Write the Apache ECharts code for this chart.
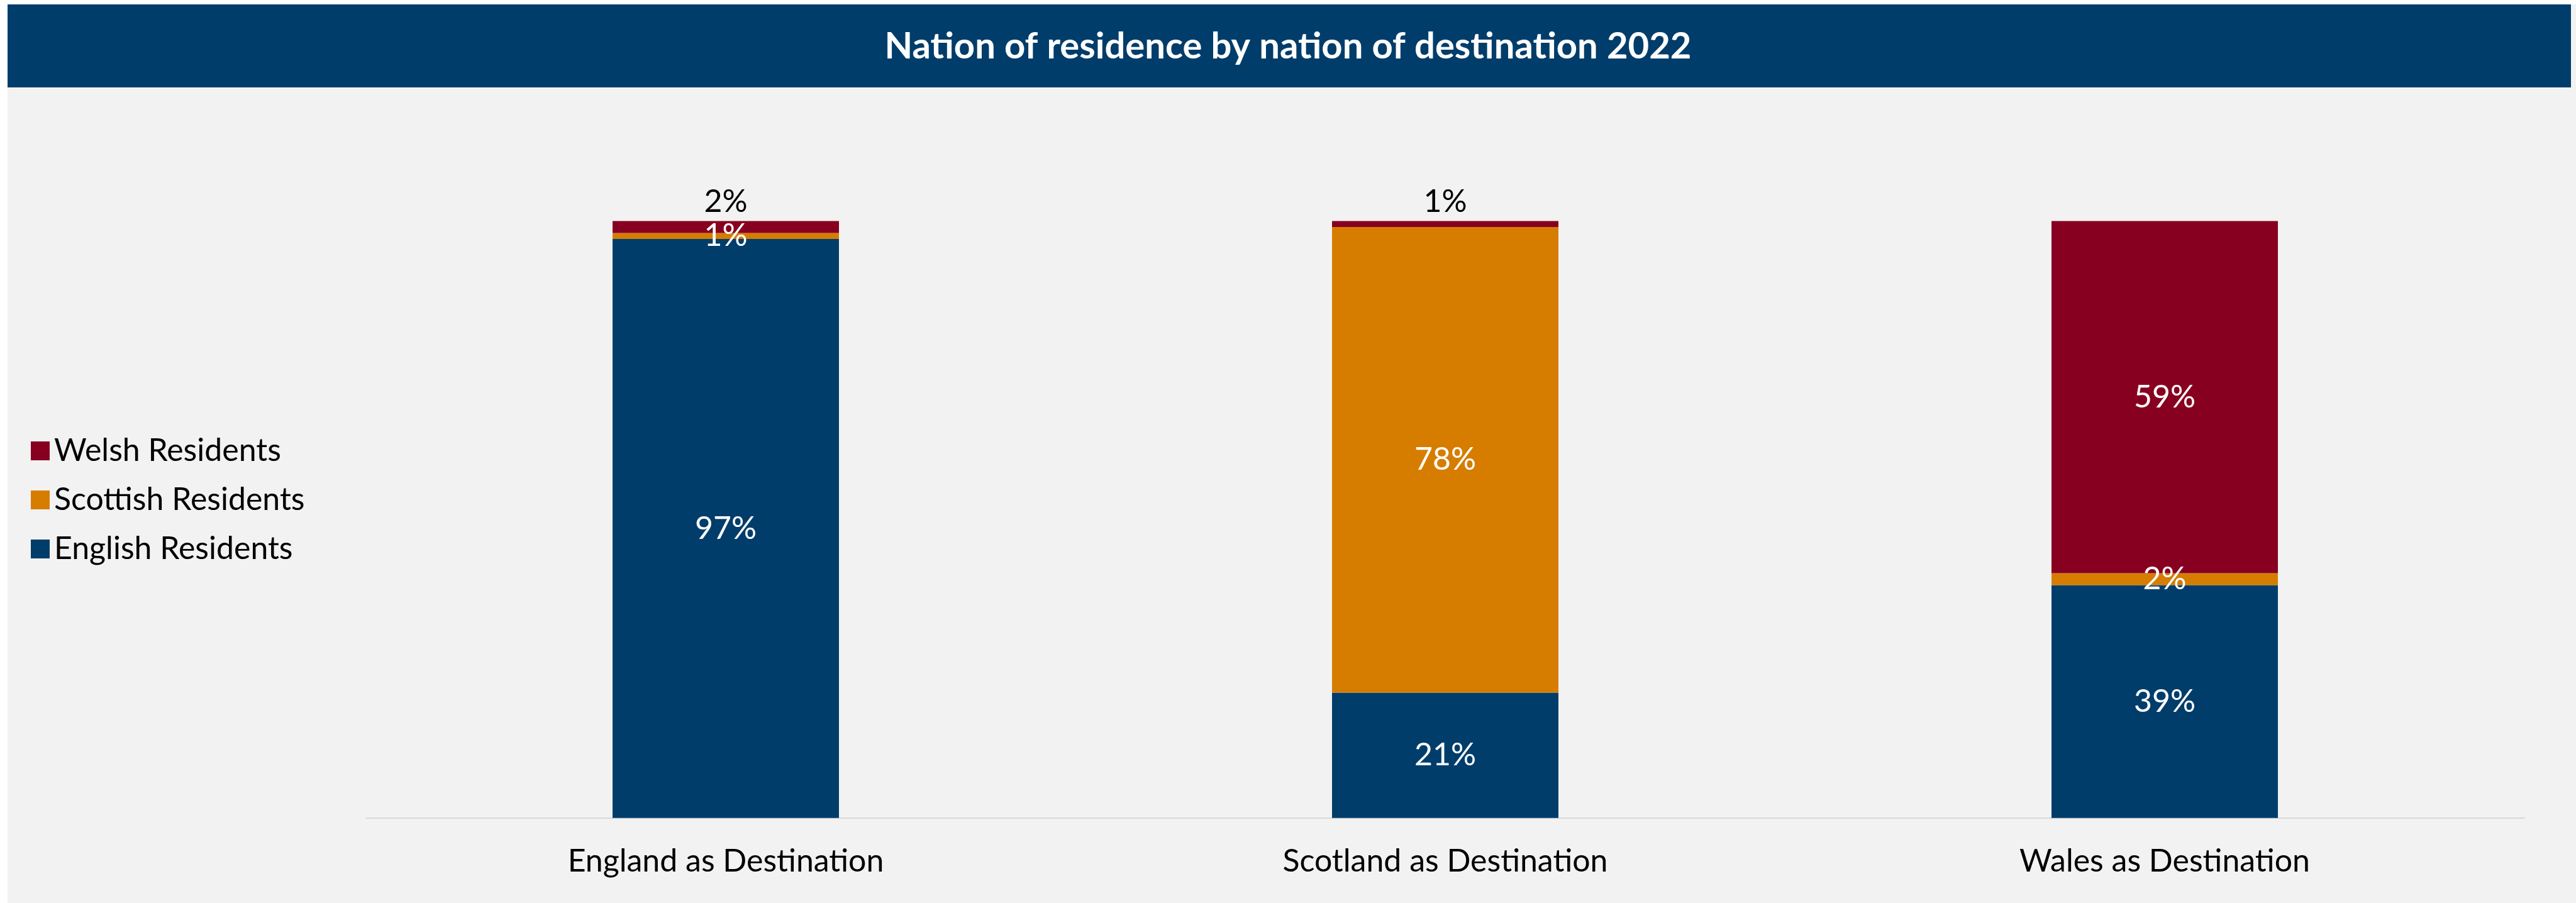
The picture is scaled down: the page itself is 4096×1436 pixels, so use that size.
<!DOCTYPE html>
<html>
<head>
<meta charset="utf-8">
<title>Nation of residence by nation of destination 2022</title>
<script src="https://cdn.jsdelivr.net/npm/echarts@6/dist/echarts.min.js"></script>
<style>
  html, body { margin: 0; padding: 0; background: #ffffff; }
  #chart { width: 4096px; height: 1436px; }
</style>
</head>
<body>
<div id="chart"></div>
<script>
// Destinations along the x axis
const destinations = ['England as Destination', 'Scotland as Destination', 'Wales as Destination'];

// Share of visitors (%) by nation of residence, per destination
const englishResidents = [97, 21, 39];
const scottishResidents = [1, 78, 2];
const welshResidents = [2, 1, 59];

// Order shown in the legend (top to bottom)
const legendOrder = ['Welsh Residents', 'Scottish Residents', 'English Residents'];

const NAVY = '#003D6B';
const ORANGE = '#D67D00';
const RED = '#870020';
const FONT = 'Lato, "Open Sans", sans-serif';

const chart = echarts.init(document.getElementById('chart'));

// Small Welsh segments get their label above the bar in dark text
const welshData = welshResidents.map(function (v) {
  if (v < 5) {
    return { value: v, label: { position: 'top', distance: 6, color: '#000000' } };
  }
  return v;
});

const labelBase = {
  show: true,
  position: 'inside',
  color: '#ffffff',
  fontFamily: FONT,
  fontSize: 50,
  formatter: function (p) { return p.value + '%'; }
};

chart.setOption({
  backgroundColor: '#ffffff',
  animation: false,
  graphic: [
    // panel background
    { type: 'rect', shape: { x: 12, y: 7, width: 4084, height: 1429 }, style: { fill: '#F2F2F2' }, z: -10 },
    // title band
    { type: 'rect', shape: { x: 12, y: 7, width: 4076, height: 132 }, style: { fill: NAVY }, z: -5 }
  ],
  title: {
    text: 'Nation of residence by nation of destination 2022',
    left: 'center',
    top: 40,
    textStyle: { color: '#ffffff', fontFamily: FONT, fontWeight: 'bold', fontSize: 58 }
  },
  legend: {
    orient: 'vertical',
    left: 44,
    top: 687,
    data: legendOrder,
    itemWidth: 30,
    itemHeight: 30,
    itemGap: 28,
    icon: 'rect',
    textStyle: { color: '#000000', fontFamily: FONT, fontSize: 50, lineHeight: 50, padding: [0, 0, 0, 2] }
  },
  grid: { left: 582, right: 82, top: 351.5, bottom: 135.2, containLabel: false },
  xAxis: {
    type: 'category',
    data: destinations,
    axisLine: { show: true, lineStyle: { color: '#D9D9D9', width: 2 } },
    axisTick: { show: false },
    axisLabel: { color: '#000000', fontFamily: FONT, fontSize: 50, margin: 44 }
  },
  yAxis: {
    type: 'value',
    min: 0,
    max: 100,
    show: false,
    splitLine: { show: false }
  },
  series: [
    {
      name: 'English Residents', type: 'bar', stack: 'share', barWidth: 360,
      itemStyle: { color: NAVY }, label: labelBase, data: englishResidents
    },
    {
      name: 'Scottish Residents', type: 'bar', stack: 'share', barWidth: 360,
      itemStyle: { color: ORANGE }, label: labelBase, data: scottishResidents
    },
    {
      name: 'Welsh Residents', type: 'bar', stack: 'share', barWidth: 360,
      itemStyle: { color: RED }, label: labelBase, data: welshData
    }
  ]
});
</script>
</body>
</html>
